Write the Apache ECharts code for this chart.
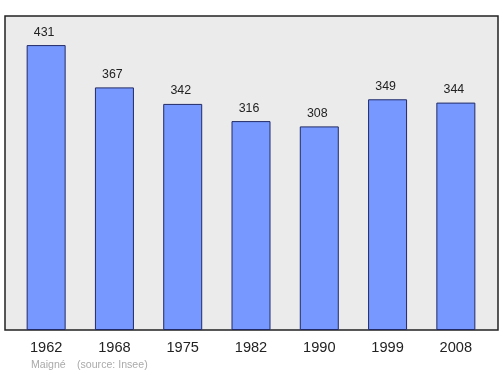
<!DOCTYPE html>
<html><head><meta charset="utf-8">
<script src="https://cdn.jsdelivr.net/npm/echarts@6/dist/echarts.min.js"></script>
<style>html,body{margin:0;padding:0;background:#fff}#c{width:500px;height:374px}</style>
</head><body><div id="c"></div>
<script>
var years = ['1962','1968','1975','1982','1990','1999','2008'];
var population = [431,367,342,316,308,349,344];
var F = 'Liberation Sans, Arial, sans-serif';
var chart = echarts.init(document.getElementById('c'));
chart.setOption({
  animation:false,
  grid:[
    {left:5,right:2,top:16,bottom:44,show:true,backgroundColor:'#ebebeb',borderColor:'#222',borderWidth:1.5,z:0},
    {left:12,right:10,top:16,bottom:44}
  ],
  xAxis:[
    {gridIndex:0,type:'value',show:false,min:0,max:1},
    {gridIndex:1,type:'category',data:years,axisLine:{show:false},axisTick:{show:false},
     axisLabel:{fontSize:14.6,color:'#222',margin:10,fontFamily:F}}
  ],
  yAxis:[
    {gridIndex:0,type:'value',show:false,min:0,max:1},
    {gridIndex:1,type:'value',min:0,max:475,show:false,splitLine:{show:false}}
  ],
  series:[{
    type:'bar',xAxisIndex:1,yAxisIndex:1,data:population,barWidth:39,
    itemStyle:{color:'#7799ff',borderColor:'#222a66',borderWidth:1},
    label:{show:true,position:'top',distance:7,fontSize:12.4,color:'#222',fontFamily:F,offset:[-2,0]}
  }],
  graphic:[
    {type:'text',left:31,top:359.5,style:{text:'Maigné',fontSize:10.6,fill:'#aaa',fontFamily:F}},
    {type:'text',left:77,top:359.5,style:{text:'(source: Insee)',fontSize:10.6,fill:'#aaa',fontFamily:F}}
  ]
});
</script></body></html>
